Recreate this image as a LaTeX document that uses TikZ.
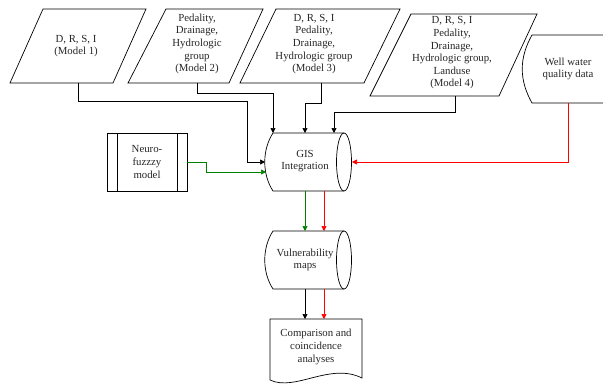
\documentclass[tikz,border=0pt]{standalone}
\usepackage{fontspec}
\setmainfont{Liberation Serif}
\usetikzlibrary{arrows.meta}
\definecolor{lnred}{RGB}{255,0,0}
\definecolor{lngreen}{RGB}{0,128,0}
\begin{document}
\begin{tikzpicture}[x=1pt,y=-1pt,
  shp/.style={draw=black, line width=0.7pt},
  lbl/.style={align=center, font=\fontsize{10.8}{12.6}\selectfont, inner sep=0pt, text=black!85},
  conn/.style={line width=0.7pt, -{Triangle[width=5pt,length=5pt]}},
]
\useasboundingbox (0,0) rectangle (603,388);

% ---- shapes ----
% parallelograms (data)
\draw[shp] (43,9) -- (146,9) -- (113,83) -- (10,83) -- cycle;
\draw[shp] (166,9) -- (263,9) -- (229,83) -- (128,83) -- cycle;
\draw[shp] (276,9) -- (400,9) -- (364,83) -- (240,83) -- cycle;
\draw[shp] (411,14) -- (537,14) -- (499,96) -- (370,96) -- cycle;
% well water (stored data)
\draw[shp] (610,35) -- (532,35) .. controls (519,58) and (519,80) .. (532,103) -- (610,103);
% neuro-fuzzy (predefined process)
\draw[shp] (107,133) rectangle (187,191);
\draw[shp] (117,133) -- (117,191) (177,133) -- (177,191);
% GIS integration (direct access storage)
\draw[shp] (344,133) -- (273,133) .. controls (262,150) and (262,174) .. (273,191) -- (344,191);
\draw[shp] (344,162) ellipse [x radius=7.5, y radius=29];
% vulnerability maps
\draw[shp] (344,231) -- (273,231) .. controls (262,248) and (262,272) .. (273,289) -- (344,289);
\draw[shp] (344,260) ellipse [x radius=7.5, y radius=29];
% document
\draw[shp] (270,380) -- (270,319) -- (362,319) -- (362,378)
  .. controls (330,362) and (295,392) .. (270,380);

% ---- labels ----
\node[lbl] (p1) at (76,46) {D, R, S, I\\(Model 1)};
\node[lbl] (p2) at (197,44) {Pedality,\\Drainage,\\Hydrologic\\group\\(Model 2)};
\node[lbl] (p3) at (314,44) {D, R, S, I\\Pedality,\\Drainage,\\Hydrologic group\\(Model 3)};
\node[lbl] (p4) at (452,53) {D, R, S, I\\Pedality,\\Drainage,\\Hydrologic group,\\Landuse\\(Model 4)};
\node[lbl] (well) at (568,69) {Well water\\quality data};
\node[lbl] (neuro) at (147,162) {Neuro-\\fuzzzy\\model};
\node[lbl] (gis) at (305,161) {GIS\\Integration};
\node[lbl] (vuln) at (305,260) {Vulnerability\\maps};
\node[lbl] (doc) at (316,347) {Comparison and\\coincidence\\analyses};

% ---- ports ----
\coordinate (p1s) at (78,83);
\coordinate (p2s) at (197,83);
\coordinate (p3s) at (321,83);
\coordinate (p4s) at (455,96);
\coordinate (wells) at (568,103);
\coordinate (neuroE) at (187,162);
\coordinate (gisL1) at (265,162);
\coordinate (gisL2) at (266,172);
\coordinate (gisT1) at (273,133);
\coordinate (gisT2) at (305,133);
\coordinate (gisT3) at (334,133);
\coordinate (gisR) at (352,162);
\coordinate (gisB1) at (305,191);
\coordinate (gisB2) at (324,191);
\coordinate (vulT1) at (305,231);
\coordinate (vulT2) at (324,231);
\coordinate (vulB1) at (305,289);
\coordinate (vulB2) at (324,289);
\coordinate (docT1) at (305,319);
\coordinate (docT2) at (324,319);
\coordinate (b1) at (247,101);
\coordinate (b2) at (273,93);
\coordinate (b3) at (305,103);
\coordinate (b4) at (334,112);
\coordinate (b5) at (206,172);

% ---- connectors ----
\draw[conn] (p1s) |- (b1) |- (gisL1);
\draw[conn] (p2s) |- (b2) -- (gisT1);
\draw[conn] (p3s) |- (b3) -- (gisT2);
\draw[conn] (p4s) |- (b4) -- (gisT3);
\draw[conn, lnred] (wells) |- (gisR);
\draw[conn, lngreen] (neuroE) -| (b5) -- (gisL2);
\draw[conn, lngreen] (gisB1) -- (vulT1);
\draw[conn, lnred] (gisB2) -- (vulT2);
\draw[conn] (vulB1) -- (docT1);
\draw[conn, lnred] (vulB2) -- (docT2);
\end{tikzpicture}
\end{document}
